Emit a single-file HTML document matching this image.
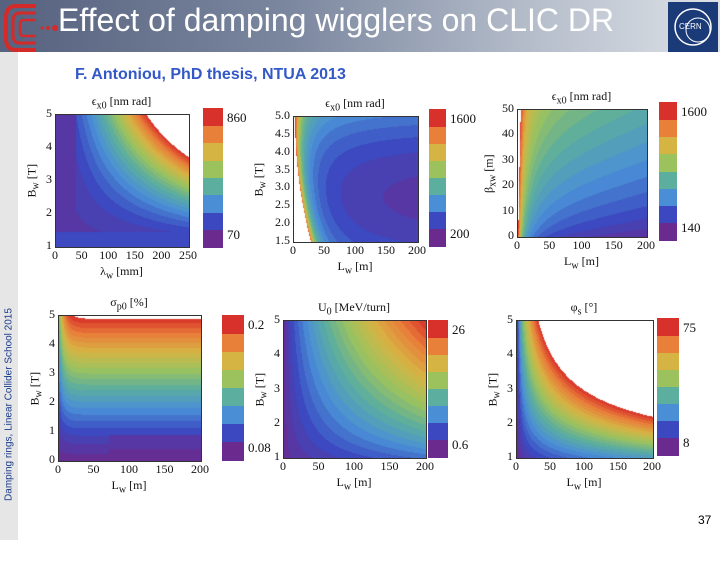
<!DOCTYPE html>
<html><head><meta charset="utf-8">
<style>
body{margin:0;width:720px;height:540px;overflow:hidden;background:#fff;position:relative;font-family:"Liberation Serif",serif}
.abs{position:absolute}
#hdr{left:0;top:0;width:720px;height:52px;background:linear-gradient(90deg,#56627e 0%,#7b879f 40%,#b7bfcc 75%,#dde1e7 100%)}
#title{left:58px;top:2px;font:32px "Liberation Sans",sans-serif;color:#fff;white-space:nowrap}
#stripe{left:0;top:52px;width:18px;height:488px;background:#e6e6e6}
#side{left:-151px;top:399px;width:320px;transform:rotate(-90deg);font:10px "Liberation Sans",sans-serif;color:#1a3a8a;text-align:center;white-space:nowrap}
#sub{left:75px;top:66px;font:bold 16px "Liberation Sans",sans-serif;color:#3358c8}
canvas{position:absolute}
.t{position:absolute;font-size:12px;color:#111;white-space:nowrap}
.cb{position:absolute;font-size:13px;color:#111}
</style></head><body>
<div id="hdr" class="abs"></div>
<svg class="abs" style="left:2px;top:2px" width="56" height="52">
<path d="M34 4 H14 Q4 4 4 16 V36 Q4 48 14 48 H34" fill="none" stroke="#d42a2a" stroke-width="4"/>
<path d="M34 11 H18 Q11 11 11 19 V33 Q11 41 18 41 H34" fill="none" stroke="#d42a2a" stroke-width="3"/>
<path d="M34 18 H22 Q18 18 18 22 V30 Q18 34 22 34 H34" fill="none" stroke="#d42a2a" stroke-width="2.5"/>
<circle cx="40" cy="26" r="1.5" fill="#d42a2a"/><circle cx="46" cy="26" r="2" fill="#d42a2a"/><circle cx="53" cy="26" r="3" fill="#d42a2a"/>
</svg>
<div id="title" class="abs">Effect of damping wigglers on CLIC DR</div>
<svg class="abs" style="left:668px;top:2px" width="50" height="50">
<rect width="50" height="50" fill="#1b3a78"/><circle cx="25" cy="25" r="18" fill="none" stroke="#fff" stroke-width="1.5"/>
<circle cx="30" cy="28" r="12" fill="none" stroke="#fff" stroke-width="1"/>
<text x="11" y="27" font-family="Liberation Sans" font-size="8" fill="#fff">CERN</text></svg>
<div id="stripe" class="abs"></div>
<div id="side" class="abs">Damping rings, Linear Collider School 2015</div>
<div id="sub" class="abs">F. Antoniou, PhD thesis, NTUA 2013</div>
<div class="abs" style="left:698px;top:513px;font:12px 'Liberation Sans',sans-serif">37</div>
<div id="plots"></div>
<script>
const colors=["#6b2a8e","#3c48c0","#4a8fd6","#5cae9e","#9cc25e","#d6b444","#e8803a","#d8302a"];
const titles=["ϵ<sub>x0</sub> [nm rad]","ϵ<sub>x0</sub> [nm rad]","ϵ<sub>x0</sub> [nm rad]","σ<sub>p0</sub> [%]","U<sub>0</sub> [MeV/turn]","φ<sub>s</sub> [°]"];
const xLabels=["λ<sub>w</sub> [mm]","L<sub>w</sub> [m]","L<sub>w</sub> [m]","L<sub>w</sub> [m]","L<sub>w</sub> [m]","L<sub>w</sub> [m]"];
const yLabels=["B<sub>w</sub> [T]","B<sub>w</sub> [T]","β<sub>xw</sub> [m]","B<sub>w</sub> [T]","B<sub>w</sub> [T]","B<sub>w</sub> [T]"];
const xTicks=[[0,50,100,150,200,250],[0,50,100,150,200],[0,50,100,150,200],[0,50,100,150,200],[0,50,100,150,200],[0,50,100,150,200]];
const xRange=[[0,250],[0,200],[0,200],[0,200],[0,200],[0,200]];
const yTicks=[[1,2,3,4,5],[1.5,2.0,2.5,3.0,3.5,4.0,4.5,5.0],[0,10,20,30,40,50],[0,1,2,3,4,5],[1,2,3,4,5],[1,2,3,4,5]];
const yRange=[[1,5],[1.5,5],[0,50],[0,5],[1,5],[1,5]];
const cbMax=["860","1600","1600","0.2","26","75"];
const cbMin=["70","200","140","0.08","0.6","8"];
const boxes=[[55,114,133,132,203,108,20,139],[293,116,124,125,429,109,17,137],[517,109,129,127,659,102,18,138],[58,315,142,145,222,315,22,145],[283,320,142,137,428,320,20,137],[516,320,136,137,657,318,22,137]];
const yOff=[22,33,27,22,22,22];
const fields=[
 (u,v)=>{let t=0.07+0.93*Math.pow(u*v/0.68,1.5);if(v<0.12)t=Math.max(t,0.16);if(u<0.15&&v>0.3)t=Math.min(t,0.06);return t},
 (u,v)=>{let w=u-0.13*(1-v)*(1-v);if(w<0.004)return 2;return 0.03/(w+0.03)+0.4*(v-0.35)*(v-0.35)+0.04},
 (u,v)=>0.025/(u+0.03)+0.42*Math.pow(v,0.7)*(1-0.1*u)+0.06*(1-u),
 (u,v)=>{let t=Math.pow(v,1.3)*(1-0.5*Math.exp(-u*30));if(v<0.18&&u>0.35)t*=0.5;return t+0.02},
 (u,v)=>0.98*Math.pow(u*(0.1+0.9*v),0.7)+0.02,
 (u,v)=>2.25*Math.sqrt(u)*(v+0.15)*0.98
];
function hex(c){return [1,3,5].map(i=>parseInt(c.substr(i,2),16))}
const rgb=colors.map(hex);
function col(t){t=Math.max(0,Math.min(0.999,t));t=Math.floor(t*24)/24+1/48;let p=t*7,i=Math.min(6,Math.floor(p)),f=p-i;return rgb[i].map((c,k)=>Math.round(c+(rgb[i+1][k]-c)*f))}
const root=document.getElementById('plots');
boxes.forEach((b,k)=>{
 const [x,y,w,h,cx,cy,cw,ch]=b;
 const cv=document.createElement('canvas');cv.width=w;cv.height=h;cv.style.left=x+'px';cv.style.top=y+'px';cv.style.border='1px solid #333';cv.style.boxSizing='border-box';
 
 
 const g=cv.getContext('2d'),im=g.createImageData(w,h);
 for(let j=0;j<h;j++)for(let i=0;i<w;i++){const t=fields[k](i/w,1-j/h);const o=(j*w+i)*4;let c=t>1?[255,255,255]:col(t);im.data[o]=c[0];im.data[o+1]=c[1];im.data[o+2]=c[2];im.data[o+3]=255}
 g.putImageData(im,0,0);root.appendChild(cv);
 for(let i=0;i<8;i++){const d=document.createElement('div');d.className='abs';d.style.cssText=`left:${cx}px;top:${cy+ch-(i+1)*ch/8}px;width:${cw}px;height:${ch/8+0.5}px;background:${colors[i]}`;
  
  root.appendChild(d)}
 const mx=document.createElement('div');mx.className='cb';mx.style.left=(cx+cw+4)+'px';mx.style.top=(cy+2)+'px';mx.innerHTML=cbMax[k];
 
 root.appendChild(mx);
 const mn=document.createElement('div');mn.className='cb';mn.style.left=(cx+cw+4)+'px';mn.style.top=(cy+ch-20)+'px';mn.innerHTML=cbMin[k];
 
 root.appendChild(mn);
 const tt=document.createElement('div');tt.className='t';tt.style.left=(x+w/2-40)+'px';tt.style.width='80px';tt.style.textAlign='center';tt.style.top=(y-20)+'px';tt.innerHTML=titles[k];
 
 root.appendChild(tt);
 const [x0,x1]=xRange[k],[y0,y1]=yRange[k];
 xTicks[k].forEach(v=>{const l=document.createElement('div');l.className='t';const px=x+(v-x0)/(x1-x0)*w;l.style.left=(px-15)+'px';l.style.width='30px';l.style.textAlign='center';l.style.top=(y+h+2)+'px';l.textContent=v;
  
  root.appendChild(l)});
 yTicks[k].forEach(v=>{const l=document.createElement('div');l.className='t';const py=y+h-(v-y0)/(y1-y0)*h;l.style.left=(x-32)+'px';l.style.width='29px';l.style.textAlign='right';l.style.top=(py-8)+'px';l.textContent=(k==1?v.toFixed(1):v);
  
  root.appendChild(l)});
 const xl=document.createElement('div');xl.className='t';xl.style.left=(x+w/2-40)+'px';xl.style.width='80px';xl.style.textAlign='center';xl.style.top=(y+h+18)+'px';xl.innerHTML=xLabels[k];
 
 root.appendChild(xl);
 const yl=document.createElement('div');yl.className='t';yl.style.left=(x-yOff[k]-40)+'px';yl.style.width='80px';yl.style.textAlign='center';yl.style.top=(y+h/2-8)+'px';yl.style.transform='rotate(-90deg)';yl.innerHTML=yLabels[k];
 
 root.appendChild(yl);
});
</script>
</body></html>
